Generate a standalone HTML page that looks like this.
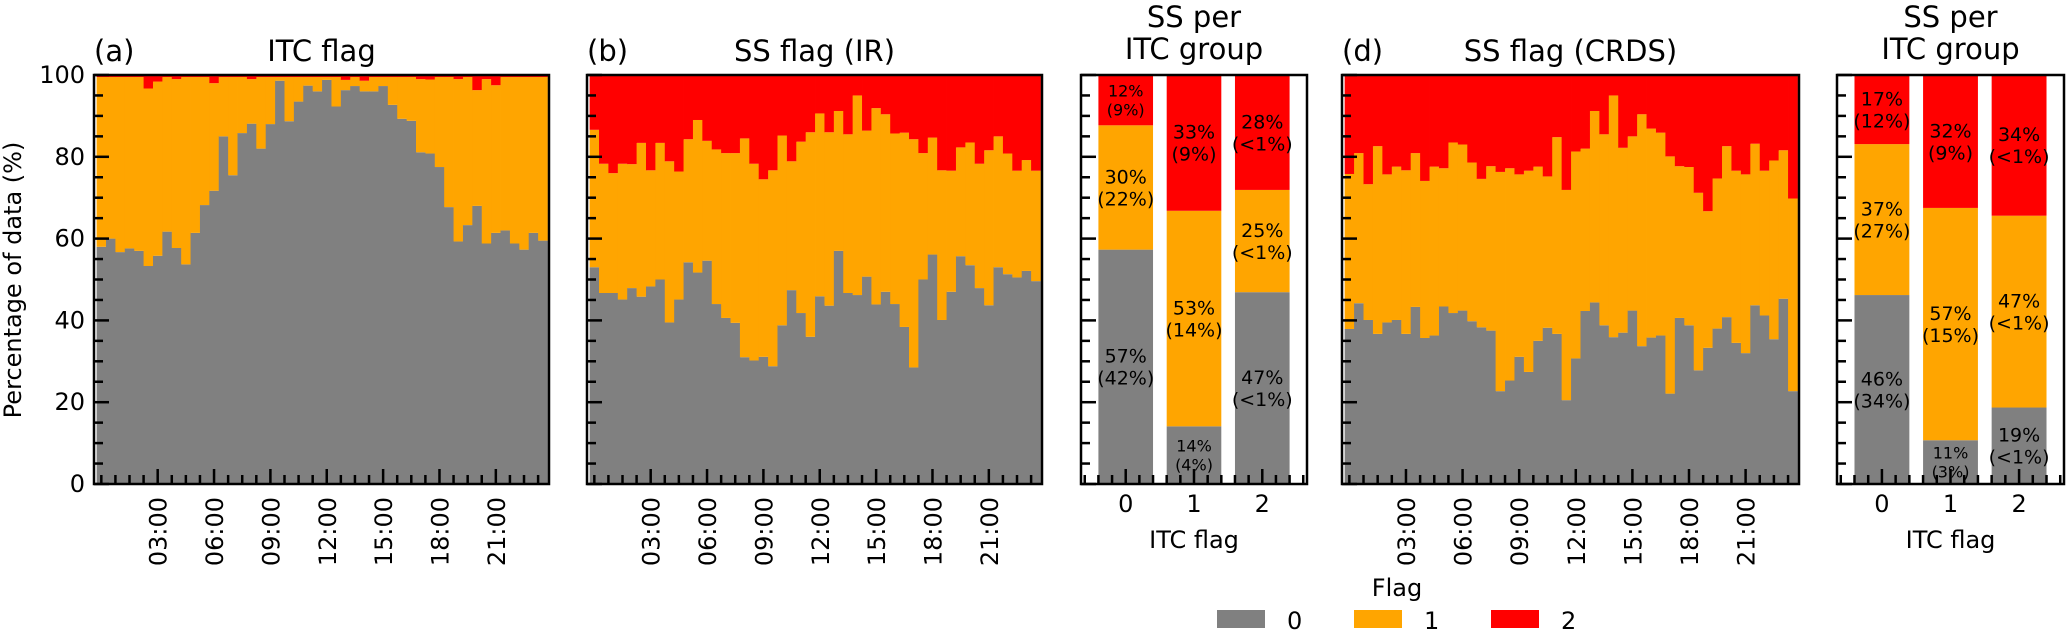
<!DOCTYPE html>
<html><head><meta charset="utf-8"><style>
html,body{margin:0;padding:0;background:#fff;}
svg{display:block;font-family:"DejaVu Sans","Liberation Sans",sans-serif;}
</style></head><body>
<svg id="chart" width="2067" height="633" viewBox="0 0 2067 633" xmlns="http://www.w3.org/2000/svg"></svg>
<script>
// ---- data ----
const timeTickLabels = ["03:00","06:00","09:00","12:00","15:00","18:00","21:00"];
const timeTickHours = [3,6,9,12,15,18,21];
const yTickLabels = ["0","20","40","60","80","100"];
const itcCategories = ["0","1","2"];
const flagNames = ["0","1","2"];

const itcFlag0 = [58,60,56.7,57.6,57,53.3,55.8,61.7,57.7,53.7,61.4,68.2,71.7,85,75.5,85.8,88.1,82,88,98.6,88.7,93.5,97.4,96,98.8,92.3,96.3,97.3,96,96,97.3,92.7,89.3,88.8,81.1,80.8,77.5,67.7,59.3,63.3,68,58.8,61.4,62,58.8,57.3,61.4,59.5];
const itcFlag1 = [41.5,39.5,42.8,41.9,42.5,43.4,42.6,37.8,41.3,45.8,38.1,31.3,26.3,14.5,24,13.7,10.9,17.5,11.5,0.9,10.8,6,2.1,3.5,0.7,7.2,2.5,2.2,2.6,3.5,2.2,6.8,10.2,10.7,17.9,18.1,22,31.8,39.7,36.2,28.3,40.2,36.1,37.5,40.7,42.2,38.1,40];
const itcFlag2 = [0.5,0.5,0.5,0.5,0.5,3.3,1.6,0.5,1.0,0.5,0.5,0.5,2.0,0.5,0.5,0.5,1.0,0.5,0.5,0.5,0.5,0.5,0.5,0.5,0.5,0.5,1.2,0.5,1.4,0.5,0.5,0.5,0.5,0.5,1.0,1.1,0.5,0.5,1.0,0.5,3.7,1.0,2.5,0.5,0.5,0.5,0.5,0.5];

const irFlag0 = [53,46.7,46.7,45.1,47.9,45.8,48.3,50,39.5,45.1,54.2,51.7,54.6,44,40.6,39.4,31,30.2,31.1,28.8,38.8,47.4,41.8,36,45.9,43.6,57,46.7,46.2,50.7,43.9,47,44,38.4,28.5,50,56.1,40.1,47,55.7,53.5,47.9,43.7,53,51.3,50.5,52.1,49.6];
const irFlag1 = [33.6,31.6,29.3,33.2,30.3,37.6,28.4,33.4,39.4,31.3,30.1,37.3,29.3,37.8,40.3,41.5,53.5,48.1,43.4,47.9,46.4,31.5,41.9,50,44.7,42.4,34.2,38.8,48.8,35.7,48,43.4,41.7,47.5,55.8,30.9,28.6,36.6,29.6,26.6,30,30.4,37.9,32,29.5,26.1,27.1,27];
const irFlag2 = [13.4,21.7,24,21.7,21.8,16.6,23.3,16.6,21.1,23.6,15.7,11,16.1,18.2,19.1,19.1,15.5,21.7,25.5,23.3,14.8,21.1,16.3,14,9.4,14,8.8,14.5,5,13.6,8.1,9.6,14.3,14.1,15.7,19.1,15.3,23.3,23.4,17.7,16.5,21.7,18.4,15,19.2,23.4,20.8,23.4];

const crdsFlag0 = [37.9,44.2,40.1,36.7,39.5,40.1,36.7,43.3,35.7,36.3,43.4,41.8,42.4,39.8,38.3,37.5,22.7,25.3,31.1,27.4,35,38.2,36.7,20.5,30.7,42.3,44.4,38.8,35.9,37,42.4,33.7,35.8,36.3,22.1,40.6,38.8,27.8,33.3,38,40.8,34.5,32,43.7,41.2,35.4,45.3,22.7];
const crdsFlag1 = [37.9,36.7,33.2,45.9,36.2,37.5,40,37.6,38.4,41.3,33.8,41.7,40.6,38.8,36.3,40.2,53.6,51.9,44.6,49.2,42.6,37,48.1,51.4,50.6,39.7,46.8,46.7,59.1,45.2,42.6,56.7,51.1,49.6,58,37.1,38.7,43.4,33.4,36.7,41.8,42.1,43.7,39.5,35.4,43.7,36.3,47.1];
const crdsFlag2 = [24.2,19.1,26.7,17.4,24.3,22.4,23.3,19.1,25.9,22.4,22.8,16.5,17,21.4,25.4,22.3,23.7,22.8,24.3,23.4,22.4,24.8,15.2,28.1,18.7,18,8.8,14.5,5,17.8,15,9.6,13.1,14.1,19.9,22.3,22.5,28.8,33.3,25.3,17.4,23.4,24.3,16.8,23.4,20.9,18.4,30.2];

const irGroupFlag0 = [57.3,14.1,46.9];
const irGroupFlag1 = [30.4,52.7,25.0];
const irGroupFlag2 = [12.3,33.2,28.1];
const irGroupLabel0 = ["57%\n(42%)","14%\n(4%)","47%\n(<1%)"];
const irGroupLabel1 = ["30%\n(22%)","53%\n(14%)","25%\n(<1%)"];
const irGroupLabel2 = ["12%\n(9%)","33%\n(9%)","28%\n(<1%)"];

const crdsGroupFlag0 = [46.2,10.7,18.7];
const crdsGroupFlag1 = [36.9,56.8,46.9];
const crdsGroupFlag2 = [16.9,32.5,34.4];
const crdsGroupLabel0 = ["46%\n(34%)","11%\n(3%)","19%\n(<1%)"];
const crdsGroupLabel1 = ["37%\n(27%)","57%\n(15%)","47%\n(<1%)"];
const crdsGroupLabel2 = ["17%\n(12%)","32%\n(9%)","34%\n(<1%)"];

// ---- drawing ----
const NS = "http://www.w3.org/2000/svg";
const svg = document.getElementById("chart");
const COLORS = ["#808080","#FFA500","#FF0000"];
const TOP = 75, BOTTOM = 484;
function el(tag, attrs, parent){
  const e = document.createElementNS(NS, tag);
  for (const k in attrs) e.setAttribute(k, attrs[k]);
  (parent || svg).appendChild(e);
  return e;
}
function yScale(v){ return BOTTOM - v/100*(BOTTOM-TOP); }

function yTicks(g, left, withLabels){
  for (let v=0; v<=100; v+=5){
    const major = v%20===0;
    const y = yScale(v);
    const t = el("line",{x1:left,x2:left+(major?15:9),y1:y,y2:y,stroke:"#000","stroke-width":2.5},g);
    
    
  }
  if (withLabels){
    yTickLabels.forEach((lab,i)=>{
      const t = el("text",{x:left-9,y:yScale(+lab)+8,"text-anchor":"end","font-size":24},g);
      t.textContent = lab;
      
      
    });
  }
}
function frame(g,left,right){
  const r = el("rect",{x:left,y:TOP,width:right-left,height:BOTTOM-TOP,fill:"none",stroke:"#000","stroke-width":2.5},g);
  
  
}

function timePanel(name, left, right, tag, title, s0, s1, s2, yLabels){
  const g = el("g",{});
  
  
  const x0 = -0.39, x1 = 23.83;
  const xs = h => left + (h - x0)/(x1 - x0)*(right-left);
  const series = [s0,s1,s2];
  for (let i=0;i<s0.length;i++){
    let base = 0;
    const hc = i*0.5;
    for (let k=0;k<3;k++){
      const v = series[k][i];
      const r = el("rect",{x:xs(hc-0.25),y:yScale(base+v),width:xs(hc+0.25)-xs(hc-0.25)+0.4,height:yScale(base)-yScale(base+v),fill:COLORS[k]},g);
      
      
      base += v;
    }
  }
  // x ticks
  for (let k=0;k*0.75<=x1;k++){
    const h = k*0.75;
    if (timeTickHours.includes(h)) continue;
    const t = el("line",{x1:xs(h),x2:xs(h),y1:BOTTOM,y2:BOTTOM-9,stroke:"#000","stroke-width":2.5},g);
    
    
  }
  timeTickHours.forEach((h,i)=>{
    const t = el("line",{x1:xs(h),x2:xs(h),y1:BOTTOM,y2:BOTTOM-15,stroke:"#000","stroke-width":2.5},g);
    
    
    const l = el("text",{transform:`translate(${xs(h)+9},497) rotate(-90)`,"text-anchor":"end","font-size":24},g);
    l.textContent = timeTickLabels[i];
    
    
  });
  yTicks(g,left,yLabels);
  frame(g,left,right);
  const tg = el("text",{x:left,y:61,"font-size":29},g);
  tg.textContent = tag;
  
  
  const tt = el("text",{x:(left+right)/2,y:61,"text-anchor":"middle","font-size":29},g);
  tt.textContent = title;
  
  
}

function groupPanel(name, left, right, s0,s1,s2, l0,l1,l2){
  const g = el("g",{});
  
  
  const x0 = -0.655, x1 = 2.655;
  const xs = v => left + (v-x0)/(x1-x0)*(right-left);
  const series=[s0,s1,s2], labels=[l0,l1,l2];
  itcCategories.forEach((c,i)=>{
    let base=0;
    for (let k=0;k<3;k++){
      const v = series[k][i];
      const r = el("rect",{x:xs(i-0.4),y:yScale(base+v),width:xs(i+0.4)-xs(i-0.4),height:yScale(base)-yScale(base+v),fill:COLORS[k]},g);
      
      
      const lines = labels[k][i].split("\n");
      const small = v < 15;
      const fs = small ? 16 : 19, lh = small ? 19 : 22;
      const cy = yScale(base+v/2);
      lines.forEach((ln,j)=>{
        const t = el("text",{x:xs(i),y:cy + (j-0.5)*lh + fs*0.36,"text-anchor":"middle","font-size":fs},g);
        t.textContent = ln;
        
        
      });
      base += v;
    }
    const tl = el("text",{x:xs(i),y:512,"text-anchor":"middle","font-size":24},g);
    tl.textContent = c;
    
    
  });
  for (let k=-3;k<=13;k++){
    const v = k*0.2;
    if (v<x0||v>x1) continue;
    const major = k%5===0;
    const t = el("line",{x1:xs(v),x2:xs(v),y1:BOTTOM,y2:BOTTOM-(major?15:9),stroke:"#000","stroke-width":2.5},g);
    
    
  }
  yTicks(g,left,false);
  frame(g,left,right);
  const xl = el("text",{x:(left+right)/2,y:548,"text-anchor":"middle","font-size":24},g);
  xl.textContent = "ITC flag";
  
  
  ["SS per","ITC group"].forEach((s,j)=>{
    const t = el("text",{x:(left+right)/2,y:27+j*32,"text-anchor":"middle","font-size":29},g);
    t.textContent = s;
    
    
  });
}

timePanel("panel-a-itc-flag",94,549,"(a)","ITC flag",itcFlag0,itcFlag1,itcFlag2,true);
timePanel("panel-b-ss-flag-ir",587,1042,"(b)","SS flag (IR)",irFlag0,irFlag1,irFlag2,false);
groupPanel("panel-c-ir-per-group",1081,1307,irGroupFlag0,irGroupFlag1,irGroupFlag2,irGroupLabel0,irGroupLabel1,irGroupLabel2);
timePanel("panel-d-ss-flag-crds",1342,1799,"(d)","SS flag (CRDS)",crdsFlag0,crdsFlag1,crdsFlag2,false);
groupPanel("panel-e-crds-per-group",1837,2064,crdsGroupFlag0,crdsGroupFlag1,crdsGroupFlag2,crdsGroupLabel0,crdsGroupLabel1,crdsGroupLabel2);

// y axis title
const yt = el("text",{transform:"translate(21,280) rotate(-90)","text-anchor":"middle","font-size":24});
yt.textContent = "Percentage of data (%)";



// legend
const lg = el("g",{});


const lt = el("text",{x:1397,y:596,"text-anchor":"middle","font-size":24},lg);
lt.textContent = "Flag";


flagNames.forEach((f,i)=>{
  const x = 1217 + i*137;
  const r = el("rect",{x:x,y:610,width:48,height:18,fill:COLORS[i]},lg);
  
  
  const t = el("text",{x:x+70,y:629,"font-size":24},lg);
  t.textContent = f;
  
  
});
</script>
</body></html>
